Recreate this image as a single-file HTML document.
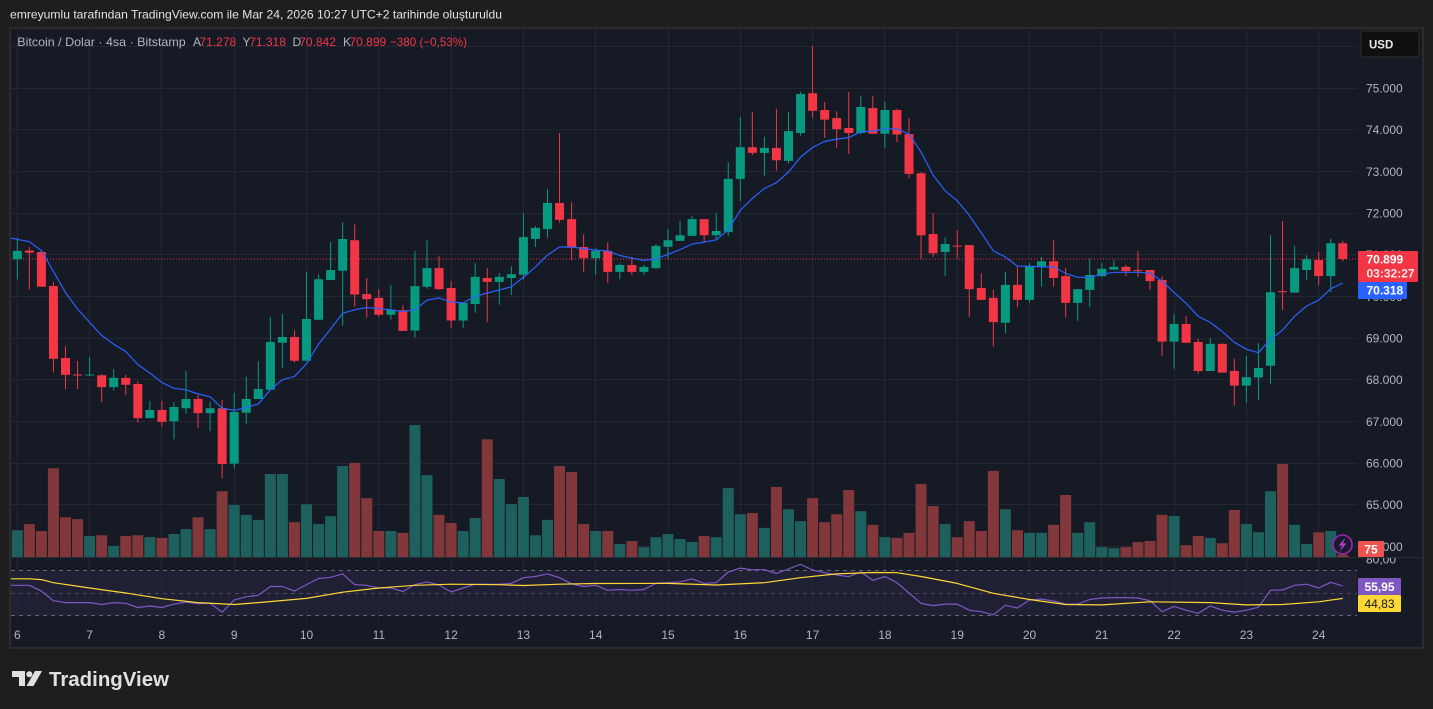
<!DOCTYPE html>
<html><head><meta charset="utf-8"><style>
html,body{margin:0;padding:0;background:#1e1e1e;width:1433px;height:709px;overflow:hidden}
svg{display:block}
text{font-family:"Liberation Sans",sans-serif}
</style></head><body>
<svg width="1433" height="709" viewBox="0 0 1433 709" xmlns="http://www.w3.org/2000/svg">
<defs>
<clipPath id="cp"><rect x="11" y="29" width="1346" height="528"/></clipPath>
<clipPath id="cr"><rect x="11" y="558" width="1346" height="63"/></clipPath>
<clipPath id="c80"><rect x="1358" y="558" width="64" height="20"/></clipPath>
</defs>
<rect width="1433" height="709" fill="#1e1e1e"/>
<text x="10" y="18.5" font-size="12" fill="#e3e3e3" textLength="492" lengthAdjust="spacingAndGlyphs">emreyumlu tarafından TradingView.com ile Mar 24, 2026 10:27 UTC+2 tarihinde oluşturuldu</text>
<rect x="9" y="27" width="1415" height="622" fill="#2b2b2b"/>
<rect x="11" y="29" width="1411" height="618" fill="#161a25"/>
<!-- RSI band -->
<rect x="11" y="570.4" width="1346" height="44.8" fill="#202035"/>
<!-- grid -->
<g stroke="#242733" stroke-width="1">
<path d="M11 46.5H1357M11 88.5H1357M11 129.5H1357M11 171.5H1357M11 213.5H1357M11 254.5H1357M11 296.5H1357M11 338.5H1357M11 379.5H1357M11 421.5H1357M11 463.5H1357M11 504.5H1357M11 546.5H1357"/>
<path d="M17.5 29V621M89.5 29V621M161.5 29V621M234.5 29V621M306.5 29V621M378.5 29V621M451.5 29V621M523.5 29V621M595.5 29V621M668.5 29V621M740.5 29V621M812.5 29V621M884.5 29V621M957.5 29V621M1029.5 29V621M1101.5 29V621M1174.5 29V621M1246.5 29V621M1318.5 29V621"/>
</g>
<line x1="11" y1="557.5" x2="1422" y2="557.5" stroke="#2a2e39" stroke-width="1"/>
<g clip-path="url(#cp)">
<!-- volume green -->
<path fill="#1e605d" d="M11.8 530.2h11V557h-11ZM84.1 536h11V557h-11ZM108.2 545.9h11V557h-11ZM144.35 537.1h11V557h-11ZM168.45 534h11V557h-11ZM180.5 529.1h11V557h-11ZM204.6 529.1h11V557h-11ZM228.7 505h11V557h-11ZM240.75 514.9h11V557h-11ZM252.8 519.9h11V557h-11ZM264.85 474h11V557h-11ZM276.9 474h11V557h-11ZM301 504.2h11V557h-11ZM313.05 524.1h11V557h-11ZM325.1 516.1h11V557h-11ZM337.15 466h11V557h-11ZM385.35 531h11V557h-11ZM409.45 425h11V557h-11ZM421.5 475.1h11V557h-11ZM457.65 531h11V557h-11ZM469.7 518h11V557h-11ZM493.8 479h11V557h-11ZM505.85 504.2h11V557h-11ZM517.9 497h11V557h-11ZM529.95 535.2h11V557h-11ZM542 519.9h11V557h-11ZM590.2 531h11V557h-11ZM614.3 544h11V557h-11ZM638.4 547.1h11V557h-11ZM650.45 537.1h11V557h-11ZM662.5 534h11V557h-11ZM674.55 539h11V557h-11ZM686.6 542h11V557h-11ZM710.7 537.1h11V557h-11ZM722.75 488.1h11V557h-11ZM734.8 514.2h11V557h-11ZM758.9 527.9h11V557h-11ZM783 509.2h11V557h-11ZM795.05 521.1h11V557h-11ZM855.3 511.1h11V557h-11ZM879.4 537.1h11V557h-11ZM939.65 524.1h11V557h-11ZM999.9 509.2h11V557h-11ZM1024 532.9h11V557h-11ZM1036.05 532.9h11V557h-11ZM1072.2 532.9h11V557h-11ZM1084.25 522.2h11V557h-11ZM1096.3 547.1h11V557h-11ZM1108.35 548.2h11V557h-11ZM1168.6 516.1h11V557h-11ZM1204.75 537.9h11V557h-11ZM1240.9 524.1h11V557h-11ZM1252.95 532.2h11V557h-11ZM1265 491.2h11V557h-11ZM1289.1 524.9h11V557h-11ZM1301.15 544h11V557h-11ZM1325.25 531h11V557h-11Z"/>
<!-- volume red -->
<path fill="#82373b" d="M23.85 524.1h11V557h-11ZM35.9 531h11V557h-11ZM47.95 468.2h11V557h-11ZM60 517.2h11V557h-11ZM72.05 519.1h11V557h-11ZM96.15 535.2h11V557h-11ZM120.25 536h11V557h-11ZM132.3 535.2h11V557h-11ZM156.4 537.9h11V557h-11ZM192.55 517.2h11V557h-11ZM216.65 491.2h11V557h-11ZM288.95 522.2h11V557h-11ZM349.2 462.9h11V557h-11ZM361.25 498.1h11V557h-11ZM373.3 531h11V557h-11ZM397.4 532.9h11V557h-11ZM433.55 514.9h11V557h-11ZM445.6 523h11V557h-11ZM481.75 439.2h11V557h-11ZM554.05 466h11V557h-11ZM566.1 472h11V557h-11ZM578.15 524.1h11V557h-11ZM602.25 531h11V557h-11ZM626.35 541h11V557h-11ZM698.65 536h11V557h-11ZM746.85 513h11V557h-11ZM770.95 487h11V557h-11ZM807.1 498.1h11V557h-11ZM819.15 522.2h11V557h-11ZM831.2 514.2h11V557h-11ZM843.25 490h11V557h-11ZM867.35 524.9h11V557h-11ZM891.45 537.9h11V557h-11ZM903.5 532.9h11V557h-11ZM915.55 483.9h11V557h-11ZM927.6 506.1h11V557h-11ZM951.7 537.1h11V557h-11ZM963.75 521.1h11V557h-11ZM975.8 531h11V557h-11ZM987.85 470.9h11V557h-11ZM1011.95 530.2h11V557h-11ZM1048.1 524.9h11V557h-11ZM1060.15 495h11V557h-11ZM1120.4 547.1h11V557h-11ZM1132.45 542.1h11V557h-11ZM1144.5 541h11V557h-11ZM1156.55 514.9h11V557h-11ZM1180.65 545.2h11V557h-11ZM1192.7 536h11V557h-11ZM1216.8 543.3h11V557h-11ZM1228.85 510h11V557h-11ZM1277.05 464h11V557h-11ZM1313.2 532.2h11V557h-11ZM1337.3 554.7h11V557h-11Z"/>
<!-- last price dotted line -->
<line x1="11" y1="259" x2="1357" y2="259" stroke="#f23645" stroke-width="1" stroke-dasharray="1 2"/>
<!-- green wicks -->
<path fill="none" stroke="#089981" stroke-width="1" d="M17.3 237.9V279.2M89.6 356.9V376M113.7 369.1V390.5M149.85 400.9V418.1M173.95 402V439.2M186 371V413.9M210.1 402V431.1M234.2 392.9V468.6M246.25 376.8V423.9M258.3 361.1V399M270.35 317.1V389.8M282.4 314V367.6M306.5 271.9V360.7M318.55 274.2V319.8M330.6 242V280M342.65 222.2V325.5M390.85 284.9V319.8M414.95 250.9V337.7M427 240.5V288.8M463.15 302.9V327.8M475.2 263.1V312.9M499.3 273.1V304.8M511.35 266.2V294.9M523.4 213.4V279.6M535.45 226V247M547.5 188.9V237.9M595.7 248.2V275M619.8 263.5V279.2M643.9 265V275M655.95 244V268.9M668 229V258.9M680.05 221V240.9M692.1 216V235.9M716.2 213V239M728.25 162.1V236M740.3 116.9V201.1M764.4 136.8V175.9M788.5 112V163.6M800.55 92V135.7M860.8 95.9V134.5M884.9 102V147.9M945.15 237.1V276.1M1005.4 271.9V333.1M1029.5 263.1V302.5M1041.55 257V286.8M1077.7 289.1V320.9M1089.75 258.9V307.1M1101.8 263.1V277.3M1113.85 260V269.6M1174.1 314V368.7M1210.25 338.1V371M1246.4 355.7V402.8M1258.45 343.1V400.1M1270.5 235.2V383.7M1294.6 245.9V292.6M1306.65 255.1V280M1330.75 239V292.2"/>
<!-- red wicks -->
<path fill="none" stroke="#f23645" stroke-width="1" d="M29.35 247V289.5M41.4 250.5V286.8M53.45 281.9V372.2M65.5 346.2V389M77.55 361V389M101.65 374.1V402M125.75 374.9V395.1M137.8 381V422.7M161.9 400.9V426.5M198.05 395.1V428M222.15 400V478.2M294.45 330.1V362.6M354.7 224.5V306.7M366.75 278V317.8M378.8 289.1V316.7M402.9 305.2V330.9M439.05 256.2V289.9M451.1 281.1V327.8M487.25 268.1V322.1M559.55 133V222.5M571.6 202.3V260M583.65 234.4V271.9M607.75 242.1V283M631.85 257V275M704.15 219.1V242.8M752.35 112V155.2M776.45 108.9V170.5M812.6 46.1V118.1M824.65 102V138M836.7 111.2V147.9M848.75 92V154M872.85 95.9V133.8M896.95 108.9V142.2M909 118.1V178.2M921.05 172V258.9M933.1 213V257M957.2 230.2V258.1M969.25 245.1V317.1M981.3 273.1V299.9M993.35 289.9V346.2M1017.45 266.9V307.1M1053.6 240.2V286.8M1065.65 268.1V317.8M1125.9 265V276.1M1137.95 250.9V276.9M1150 270V289.9M1162.05 276.1V356.1M1186.15 315.9V342.7M1198.2 338.9V373.7M1222.3 343.1V372.6M1234.35 358.8V405.5M1282.55 221V310.2M1318.7 251.6V284.9M1342.8 240.9V261.2"/>
<!-- green bodies -->
<path fill="#089981" d="M12.8 250.9h9V259.3h-9ZM85.1 374.5h9V375.5h-9ZM109.2 377.9h9V387.1h-9ZM145.35 410h9V418.1h-9ZM169.45 407h9V421.2h-9ZM181.5 399h9V408.2h-9ZM205.6 408.2h9V413.1h-9ZM229.7 412h9V463.6h-9ZM241.75 399h9V412.8h-9ZM253.8 389h9V399h-9ZM265.85 342h9V389.8h-9ZM277.9 337h9V342.7h-9ZM302 319h9V360.7h-9ZM314.05 279.2h9V319.8h-9ZM326.1 270h9V280h-9ZM338.15 239h9V270.8h-9ZM386.35 309.8h9V314.8h-9ZM410.45 286.1h9V330.5h-9ZM422.5 268.1h9V286.8h-9ZM458.65 302.9h9V320.5h-9ZM470.7 276.9h9V304h-9ZM494.8 276.9h9V281.9h-9ZM506.85 274.2h9V278h-9ZM518.9 237.1h9V274.6h-9ZM530.95 227.9h9V239h-9ZM543 203h9V229.1h-9ZM591.2 250.9h9V258.1h-9ZM615.3 265h9V271.9h-9ZM639.4 266.9h9V271.9h-9ZM651.45 245.9h9V268.1h-9ZM663.5 240.2h9V246.7h-9ZM675.55 235.2h9V240.9h-9ZM687.6 219.1h9V235.9h-9ZM711.7 231h9V235.2h-9ZM723.75 178.9h9V232.1h-9ZM735.8 147.2h9V178.9h-9ZM759.9 147.9h9V152.9h-9ZM784 131.1h9V160.9h-9ZM796.05 94h9V133h-9ZM856.3 107h9V133h-9ZM880.4 110h9V133.8h-9ZM940.65 244h9V252h-9ZM1000.9 284.9h9V322.8h-9ZM1025 266.2h9V299.9h-9ZM1037.05 261.2h9V266.9h-9ZM1073.2 289.1h9V302.9h-9ZM1085.25 275h9V289.9h-9ZM1097.3 268.8h9V276.1h-9ZM1109.35 266.9h9V269.6h-9ZM1169.6 324h9V341.6h-9ZM1205.75 343.9h9V371h-9ZM1241.9 377.2h9V385.6h-9ZM1253.95 368h9V377.5h-9ZM1266 292.2h9V365.7h-9ZM1290.1 268.1h9V292.6h-9ZM1302.15 259.3h9V270h-9ZM1326.25 243.2h9V276.1h-9Z"/>
<!-- red bodies -->
<path fill="#f23645" d="M24.85 250.5h9V252.8h-9ZM36.9 252h9V286.8h-9ZM48.95 286h9V358.8h-9ZM61 358h9V374.9h-9ZM73.05 374.5h9V375.5h-9ZM97.15 375.3h9V387.1h-9ZM121.25 377.9h9V384.8h-9ZM133.3 384h9V418.1h-9ZM157.4 410h9V421.9h-9ZM193.55 399h9V413.1h-9ZM217.65 408.2h9V464h-9ZM289.95 337h9V360.7h-9ZM350.2 240.2h9V294.5h-9ZM362.25 294.1h9V299.1h-9ZM374.3 297.9h9V314.8h-9ZM398.4 310.2h9V330.9h-9ZM434.55 268.1h9V289.1h-9ZM446.6 288h9V320.5h-9ZM482.75 278h9V281.9h-9ZM555.05 203h9V219.9h-9ZM567.1 219.1h9V247.8h-9ZM579.15 247h9V258.1h-9ZM603.25 250.9h9V271.9h-9ZM627.35 265h9V271.9h-9ZM699.65 219.1h9V235.2h-9ZM747.85 147.2h9V152.9h-9ZM771.95 147.9h9V160.2h-9ZM808.1 93.2h9V110.8h-9ZM820.15 110h9V119.6h-9ZM832.2 118.1h9V129.2h-9ZM844.25 128h9V133h-9ZM868.35 108.1h9V133.8h-9ZM892.45 110h9V134.5h-9ZM904.5 134.1h9V173.9h-9ZM916.55 173.2h9V235.2h-9ZM928.6 234h9V253.2h-9ZM952.7 245.6h9V246.6h-9ZM964.75 245.1h9V289.1h-9ZM976.8 288h9V299.9h-9ZM988.85 297.9h9V322.1h-9ZM1012.95 284.9h9V299.9h-9ZM1049.1 261.2h9V278h-9ZM1061.15 276.1h9V302.9h-9ZM1121.4 266.9h9V271.1h-9ZM1133.45 270.1h9V271.1h-9ZM1145.5 270h9V281.1h-9ZM1157.55 280h9V341.6h-9ZM1181.65 324h9V342.7h-9ZM1193.7 342h9V371h-9ZM1217.8 343.9h9V372.6h-9ZM1229.85 371h9V385.6h-9ZM1278.05 291.1h9V292.1h-9ZM1314.2 260h9V276.1h-9ZM1338.3 243.2h9V259h-9Z"/>
<!-- EMA -->
<polyline fill="none" stroke="#2962ff" stroke-width="1.2" stroke-linejoin="round" points="10,237.9 29.35,241.7 41.4,250.5 53.45,271.5 65.5,292.6 77.55,309 89.6,322.4 101.65,335.4 113.7,344.2 125.75,351.5 137.8,364.5 149.85,373 161.9,382.5 173.95,388.3 186,389.8 198.05,394 210.1,396.7 222.15,408.2 234.2,410.4 246.25,407.5 258.3,404 270.35,389.8 282.4,379.8 294.45,376.4 306.5,363.8 318.55,344.2 330.6,329 342.65,313.2 354.7,309.8 366.75,307.5 378.8,308.7 390.85,309.8 402.9,311.7 414.95,309.8 427,300.2 439.05,297.9 451.1,302.1 463.15,302.9 475.2,296.4 487.25,293 499.3,289.9 511.35,286.8 523.4,277.3 535.45,266.9 547.5,255.1 559.55,247 571.6,247 583.65,248.6 595.7,250.1 607.75,250.9 619.8,255.5 631.85,258.1 643.9,260.4 655.95,258.9 668,254.3 680.05,249.7 692.1,244 704.15,242.1 716.2,239.8 728.25,229.8 740.3,210.3 752.35,198.4 764.4,188.5 776.45,182.7 788.5,172 800.55,157.1 812.6,147.5 824.65,141.4 836.7,139.1 848.75,137.6 860.8,131.8 872.85,131.1 884.9,128.8 896.95,128.8 909,134.1 921.05,152.1 933.1,175.1 945.15,190.8 957.2,200.7 969.25,215.3 981.3,232.9 993.35,250.9 1005.4,257 1017.45,266.2 1029.5,266.2 1041.55,266.9 1053.6,266.9 1065.65,273.4 1077.7,277.3 1089.75,277.3 1101.8,274.2 1113.85,272.3 1125.9,272.3 1137.95,272.3 1150,273.1 1162.05,281.1 1174.1,292.6 1186.15,303.3 1198.2,316.3 1210.25,322.4 1222.3,331.6 1234.35,342.3 1246.4,349.2 1258.45,352.7 1270.5,339.3 1282.55,330.1 1294.6,316.3 1306.65,306 1318.7,300.2 1330.75,288.8 1342.8,283"/>
</g>
<!-- RSI pane -->
<g clip-path="url(#cr)">
<g stroke="#787b86" stroke-width="1" stroke-dasharray="4 4">
<line x1="11" y1="570.5" x2="1357" y2="570.5" stroke-opacity="0.8"/>
<line x1="11" y1="593.5" x2="1357" y2="593.5" stroke-opacity="0.5"/>
<line x1="11" y1="615.5" x2="1357" y2="615.5" stroke-opacity="0.8"/>
</g>
<polyline fill="none" stroke="#7e57c2" stroke-width="1.2" stroke-linejoin="round" points="10,585.3 29.35,585.3 41.4,591.1 53.45,600.7 65.5,602.6 77.55,602.6 89.6,602.6 101.65,604.5 113.7,602.6 125.75,603.3 137.8,607.5 149.85,606 161.9,607.5 173.95,604.1 186,602.2 198.05,603.7 210.1,603.3 222.15,612.1 234.2,599.9 246.25,596.8 258.3,595.3 270.35,586.5 282.4,586.5 294.45,591.1 306.5,584.6 318.55,578.5 330.6,577.3 342.65,573.9 354.7,584.6 366.75,585.3 378.8,588 390.85,588 402.9,591.5 414.95,584.6 427,581.9 439.05,585 451.1,591.9 463.15,588 475.2,584.2 487.25,584.2 499.3,584.2 511.35,583.4 523.4,577.7 535.45,576.5 547.5,573.9 559.55,577.7 571.6,583.8 583.65,586.5 595.7,585.3 607.75,590.3 619.8,589.5 631.85,590.3 643.9,589.5 655.95,583.4 668,582.7 680.05,581.9 692.1,578.8 704.15,583.4 716.2,582.7 728.25,572 740.3,568.1 752.35,569.7 764.4,569.7 776.45,573.5 788.5,568.9 800.55,564.3 812.6,570 824.65,572.7 836.7,575 848.75,576.6 860.8,572 872.85,580.4 884.9,576.5 896.95,582.7 909,593 921.05,603.3 933.1,605.6 945.15,604.1 957.2,604.1 969.25,610.2 981.3,611.7 993.35,614.8 1005.4,605.3 1017.45,608 1029.5,599.9 1041.55,599.1 1053.6,601 1065.65,604.1 1077.7,604.1 1089.75,599.5 1101.8,598 1113.85,597.6 1125.9,597.6 1137.95,598 1150,600.7 1162.05,611.7 1174.1,606.4 1186.15,610.2 1198.2,613.3 1210.25,606 1222.3,610.2 1234.35,612.1 1246.4,610.2 1258.45,607.2 1270.5,590.3 1282.55,589.9 1294.6,585.3 1306.65,584.2 1318.7,588 1330.75,582.3 1342.8,586.1"/>
<polyline fill="none" stroke="#fdd835" stroke-width="1.2" stroke-linejoin="round" points="10,578.8 29.35,578.8 41.4,579.6 53.45,582.7 89.6,588 125.75,593 161.9,598.7 198.05,602.6 234.2,604.5 258.3,602.6 306.5,598.4 342.65,592.2 378.8,588 414.95,585.3 451.1,584.2 499.3,584.7 523.4,585.5 559.55,584.2 595.7,583.5 668,583.4 716.2,585 764.4,582.7 800.55,577.7 836.7,573.9 872.85,572.5 896.95,572.7 921.05,576.5 957.2,583.4 993.35,593.3 1029.5,599.5 1065.65,604.5 1101.8,604.9 1150,601.8 1210.25,602.6 1246.4,604.9 1282.55,604.5 1318.7,601.8 1342.8,598.4"/>
</g>
<!-- price axis labels -->
<g font-size="12" fill="#b2b5be">
<text x="1366" y="92.5">75.000</text>
<text x="1366" y="134.2">74.000</text>
<text x="1366" y="175.9">73.000</text>
<text x="1366" y="217.5">72.000</text>
<text x="1366" y="259.2">71.000</text>
<text x="1366" y="300.9">70.000</text>
<text x="1366" y="342.6">69.000</text>
<text x="1366" y="384.2">68.000</text>
<text x="1366" y="425.9">67.000</text>
<text x="1366" y="467.6">66.000</text>
<text x="1366" y="509.2">65.000</text>
<text x="1366" y="550.9">64.000</text>
<text x="1366" y="563.5" clip-path="url(#c80)">80,00</text>
</g>
<!-- time axis labels -->
<g font-size="12" fill="#b2b5be" text-anchor="middle">
<text x="17.3" y="639">6</text><text x="89.6" y="639">7</text><text x="161.9" y="639">8</text><text x="234.2" y="639">9</text><text x="306.5" y="639">10</text><text x="378.8" y="639">11</text><text x="451.1" y="639">12</text><text x="523.4" y="639">13</text><text x="595.7" y="639">14</text><text x="668" y="639">15</text><text x="740.3" y="639">16</text><text x="812.6" y="639">17</text><text x="884.9" y="639">18</text><text x="957.2" y="639">19</text><text x="1029.5" y="639">20</text><text x="1101.8" y="639">21</text><text x="1174.1" y="639">22</text><text x="1246.4" y="639">23</text><text x="1318.7" y="639">24</text>
</g>
<!-- USD button -->
<rect x="1361" y="31" width="58" height="26" rx="3" fill="#0f0f0f" stroke="#2f2f2f" stroke-width="1"/>
<text x="1369" y="48.5" font-size="11.5" font-weight="bold" fill="#e6e6e6">USD</text>
<!-- price boxes -->
<rect x="1358" y="251" width="60" height="31" rx="1" fill="#f23645"/>
<text x="1366.5" y="263.5" font-size="12" font-weight="bold" fill="#ffffff">70.899</text>
<text x="1366.5" y="277.5" font-size="12" font-weight="bold" fill="#fde4e6">03:32:27</text>
<rect x="1358" y="282" width="49" height="17" rx="1" fill="#2962ff"/>
<text x="1366.5" y="294.5" font-size="12" font-weight="bold" fill="#ffffff">70.318</text>
<rect x="1358" y="541" width="26" height="16" rx="1" fill="#ef5350"/>
<text x="1371" y="553.3" font-size="12" font-weight="bold" fill="#ffffff" text-anchor="middle">75</text>
<rect x="1358" y="578" width="43" height="17" rx="1" fill="#7e57c2"/>
<text x="1379.5" y="590.8" font-size="12" font-weight="bold" fill="#ffffff" text-anchor="middle">55,95</text>
<rect x="1358" y="595" width="43" height="17" rx="1" fill="#fdd835"/>
<text x="1379.5" y="607.8" font-size="12" fill="#131722" text-anchor="middle">44,83</text>
<!-- lightning icon -->
<circle cx="1342.5" cy="544.5" r="9.5" fill="#1b1a2c" stroke="#9c27b0" stroke-width="1.6"/>
<polygon points="1345.2,537.8 1338.6,545.6 1342,545.6 1339.8,551.2 1346.4,543.4 1343,543.4" fill="#b03ad0"/>
<!-- legend -->
<text x="17.3" y="46" font-size="12" fill="#b2b5be" textLength="168.4" lengthAdjust="spacingAndGlyphs">Bitcoin / Dolar · 4sa · Bitstamp</text>
<g font-size="12">
<text x="193" y="46" fill="#b2b5be">A</text><text x="199.5" y="46" fill="#f23645">71.278</text>
<text x="242.5" y="46" fill="#b2b5be">Y</text><text x="249.2" y="46" fill="#f23645">71.318</text>
<text x="292.5" y="46" fill="#b2b5be">D</text><text x="299.2" y="46" fill="#f23645">70.842</text>
<text x="343" y="46" fill="#b2b5be">K</text><text x="349.5" y="46" fill="#f23645">70.899</text>
<text x="390" y="46" fill="#f23645" textLength="77" lengthAdjust="spacingAndGlyphs">−380 (−0,53%)</text>
</g>
<!-- TradingView logo -->
<g fill="#e0e0e0">
<path d="M12 671H25V686H19V677H12Z"/>
<circle cx="29.3" cy="674.2" r="3"/>
<path d="M35 671H42L33.5 686H26.5Z"/>
</g>
<text x="49" y="686" font-size="20.5" font-weight="bold" fill="#e0e0e0" textLength="120" lengthAdjust="spacingAndGlyphs">TradingView</text>
</svg>
</body></html>
